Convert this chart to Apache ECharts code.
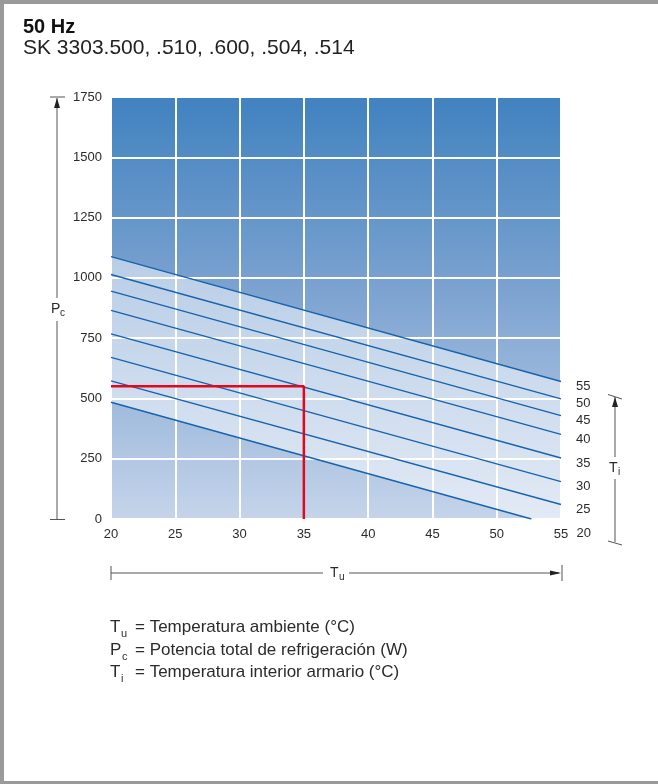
<!DOCTYPE html>
<html><head><meta charset="utf-8">
<script src="https://cdn.jsdelivr.net/npm/echarts@6/dist/echarts.min.js"></script>
<style>html,body{margin:0;padding:0;background:#fff}#c{width:658px;height:784px}</style>
</head><body><div id="c"></div>
<script>
// ---- data ----
const xRange = [20, 55];           // Tu (°C)
const yRange = [0, 1750];          // Pc (W)
const xStep = 5;
const yStep = 250;
const tiLabels = ['55', '50', '45', '40', '35', '30', '25', '20'];
const curveTi55 = [[20, 1088], [55, 570]];
const curveTi50 = [[20, 1014], [55, 498]];
const curveTi45 = [[20, 945], [55, 429]];
const curveTi40 = [[20, 865], [55, 351]];
const curveTi35 = [[20, 768], [55, 253]];
const curveTi30 = [[20, 670], [55, 155]];
const curveTi25 = [[20, 573], [55, 60]];
const curveTi20 = [[20, 484], [52.7, 0]];
const refPath = [[20, 550], [35, 550], [35, 0]];
const curves = [curveTi55, curveTi50, curveTi45, curveTi40, curveTi35, curveTi30, curveTi25, curveTi20];

const FONT = "'Liberation Sans', Arial, sans-serif";
const TXT = '#2b2b2b';
const ARW = '#555';

const bandPoly = curveTi55.concat([[xRange[1], 0]]).concat(curveTi20.slice().reverse());

const series = [{
  type: 'custom', z: 1, silent: true,
  data: [[xRange[0], 0]], encode: { x: 0, y: 1 },
  renderItem: (params, api) => ({
    type: 'polygon',
    shape: { points: bandPoly.map(p => api.coord(p)) },
    style: { fill: 'rgba(255,255,255,0.5)' }
  })
}];
curves.forEach((c, i) => {
  const last = i === curves.length - 1;
  series.push({
    type: 'line', data: c, showSymbol: false, silent: true, z: 3,
    lineStyle: { color: '#1663ae', width: 1.4 },
    endLabel: {
      show: true, formatter: tiLabels[i], distance: 15,
      offset: last ? [30, 14] : [0, 5],
      color: TXT, fontSize: 13, fontFamily: FONT
    }
  });
});
series.push({
  type: 'line', data: refPath, showSymbol: false, silent: true, z: 4,
  lineStyle: { color: '#e3061c', width: 2.5 }
});

function txt(x, y, s, size, extra) {
  return { type: 'text', x: x, y: y, style: Object.assign({ text: s, fill: TXT, fontSize: size, fontFamily: FONT }, extra || {}) };
}
function ln(x1, y1, x2, y2, w, col) {
  return { type: 'line', shape: { x1, y1, x2, y2 }, style: { stroke: col || ARW, lineWidth: w || 1 } };
}
function poly(pts, col) {
  return { type: 'polygon', shape: { points: pts }, style: { fill: col || '#222' } };
}

const graphics = [
  // frame
  { type: 'rect', shape: { x: 0, y: 0, width: 658, height: 4 }, style: { fill: '#9a9a9a' } },
  { type: 'rect', shape: { x: 0, y: 0, width: 4, height: 784 }, style: { fill: '#9a9a9a' } },
  { type: 'rect', shape: { x: 0, y: 781, width: 658, height: 3 }, style: { fill: '#9a9a9a' } },
  // header
  txt(23, 17, '50 Hz', 20, { fontWeight: 'bold', fill: '#111' }),
  txt(23, 38, 'SK 3303.500, .510, .600, .504, .514', 21, { fill: '#222' }),
  // Pc arrow
  ln(57, 98, 57, 298), ln(57, 321, 57, 519),
  ln(50, 97, 65, 97), ln(50, 519.5, 65, 519.5),
  poly([[57, 98], [54, 108], [60, 108]]),
  txt(51, 302, 'P', 14),
  txt(60, 308, 'c', 10),
  // Ti arrow
  ln(615, 397, 615, 457), ln(615, 479, 615, 542),
  ln(608, 394.5, 622, 399), ln(608, 541, 622, 545),
  poly([[615, 397], [612, 407], [618, 407]]),
  txt(609, 461, 'T', 14),
  txt(618, 467, 'i', 10),
  // Tu arrow
  ln(111, 573, 323, 573), ln(349, 573, 559, 573),
  ln(111, 566, 111, 580), ln(562, 565, 562, 581),
  poly([[561, 573], [550, 570.5], [550, 575.5]]),
  txt(330, 566, 'T', 14),
  txt(339, 572, 'u', 10),
  // legend
  txt(110, 619, 'T', 17), txt(121, 628, 'u', 11), txt(135, 619, '= Temperatura ambiente (°C)', 17),
  txt(110, 642, 'P', 17), txt(122, 651, 'c', 11), txt(135, 642, '= Potencia total de refrigeración (W)', 17),
  txt(110, 664, 'T', 17), txt(121, 673, 'i', 11), txt(135, 664, '= Temperatura interior armario (°C)', 17)
];

const chart = echarts.init(document.getElementById('c'), null, { renderer: 'canvas' });
chart.setOption({
  animation: false,
  backgroundColor: '#fff',
  textStyle: { fontFamily: FONT },
  grid: {
    left: 111, right: 97, top: 97, bottom: 265, show: true, borderWidth: 0,
    backgroundColor: {
      type: 'linear', x: 0, y: 0, x2: 0, y2: 1,
      colorStops: [{ offset: 0, color: '#4082bf' }, { offset: 0.45, color: '#7ba2d0' }, { offset: 1, color: '#c5d4ea' }]
    }
  },
  xAxis: {
    type: 'value', min: xRange[0], max: xRange[1], interval: xStep,
    axisLine: { show: false }, axisTick: { show: false },
    axisLabel: { color: TXT, fontSize: 13, margin: 9, fontFamily: FONT, formatter: v => String(v) },
    splitLine: { show: true, lineStyle: { color: '#fff', width: 2 } }
  },
  yAxis: {
    type: 'value', min: yRange[0], max: yRange[1], interval: yStep,
    axisLine: { show: false }, axisTick: { show: false },
    axisLabel: { color: TXT, fontSize: 13, margin: 9, fontFamily: FONT, formatter: v => String(v) },
    splitLine: { show: true, lineStyle: { color: '#fff', width: 2 } }
  },
  series: series,
  graphic: graphics
});
</script></body></html>
